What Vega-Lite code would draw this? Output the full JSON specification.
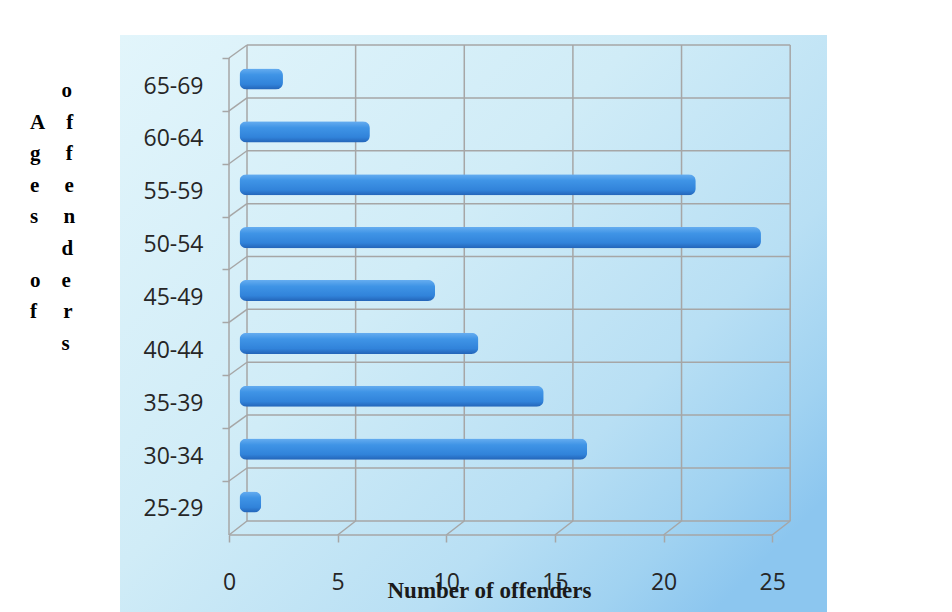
{
  "$schema": "https://vega.github.io/schema/vega-lite/v6.json",
  "width": 707,
  "height": 577,
  "autosize": {"type": "none"},
  "padding": {"left": 120, "top": 35, "right": 125, "bottom": 0},
  "background": "#ffffff",
  "config": {"view": {"stroke": null}},
  "datasets": {
    "ages": [
      {"age": "25-29", "count": 1},
      {"age": "30-34", "count": 16},
      {"age": "35-39", "count": 14},
      {"age": "40-44", "count": 11},
      {"age": "45-49", "count": 9},
      {"age": "50-54", "count": 24},
      {"age": "55-59", "count": 21},
      {"age": "60-64", "count": 6},
      {"age": "65-69", "count": 2}
    ],
    "grid": [{"v": 0}, {"v": 5}, {"v": 10}, {"v": 15}, {"v": 20}, {"v": 25}],
    "one": [{}]
  },
  "data": {"name": "ages"},
  "layer": [
    {
      "data": {"name": "one"},
      "mark": {
        "type": "rect",
        "fill": {
          "gradient": "linear", "x1": 0, "y1": 0, "x2": 1, "y2": 0.8,
          "stops": [
            {"offset": 0, "color": "#e2f5fb"},
            {"offset": 0.45, "color": "#d0ecf7"},
            {"offset": 0.75, "color": "#b8dff4"},
            {"offset": 0.9, "color": "#a0d2f1"},
            {"offset": 1, "color": "#8cc6ef"}
          ]
        }
      },
      "encoding": {}
    },
    {
      "mark": {"type": "rule", "color": "#a6a6a6", "strokeWidth": 1.5, "xOffset": 7.5, "x2Offset": 7.5, "yOffset": -34},
      "encoding": {
        "y": {"field": "age", "type": "nominal"},
        "x": {"datum": 0, "type": "quantitative"},
        "x2": {"datum": 25}
      }
    },
    {
      "data": {"name": "one"},
      "mark": {"type": "rule", "color": "#a6a6a6", "strokeWidth": 1.5, "xOffset": 7.5, "x2Offset": 7.5, "yOffset": 19},
      "encoding": {
        "y": {"datum": "25-29", "type": "nominal"},
        "x": {"datum": 0, "type": "quantitative"},
        "x2": {"datum": 25}
      }
    },
    {
      "data": {"name": "grid"},
      "mark": {"type": "rule", "color": "#a6a6a6", "strokeWidth": 1.5, "xOffset": 7.5, "yOffset": -34, "y2Offset": 19},
      "encoding": {
        "x": {"field": "v", "type": "quantitative"},
        "y": {"datum": "65-69", "type": "nominal"},
        "y2": {"datum": "25-29"}
      }
    },
    {
      "data": {"name": "one"},
      "mark": {"type": "rule", "color": "#a6a6a6", "strokeWidth": 1.5, "xOffset": -10.5, "yOffset": -21, "y2Offset": 33},
      "encoding": {
        "x": {"datum": 0, "type": "quantitative"},
        "y": {"datum": "65-69", "type": "nominal"},
        "y2": {"datum": "25-29"}
      }
    },
    {
      "data": {"name": "one"},
      "mark": {"type": "rule", "color": "#a6a6a6", "strokeWidth": 1.5, "xOffset": -10.5, "x2Offset": -10.5, "yOffset": 33},
      "encoding": {
        "y": {"datum": "25-29", "type": "nominal"},
        "x": {"datum": 0, "type": "quantitative"},
        "x2": {"datum": 25}
      }
    },
    {
      "mark": {"type": "rule", "color": "#a6a6a6", "strokeWidth": 1.5, "xOffset": -10.5, "x2Offset": 7.5, "yOffset": -21, "y2Offset": -34},
      "encoding": {
        "x": {"datum": 0, "type": "quantitative"},
        "x2": {"datum": 0},
        "y": {"field": "age", "type": "nominal"},
        "y2": {"field": "age"}
      }
    },
    {
      "data": {"name": "grid"},
      "mark": {"type": "rule", "color": "#a6a6a6", "strokeWidth": 1.5, "xOffset": -10.5, "x2Offset": 7.5, "yOffset": 33, "y2Offset": 19},
      "encoding": {
        "x": {"field": "v", "type": "quantitative"},
        "x2": {"field": "v"},
        "y": {"datum": "25-29", "type": "nominal"},
        "y2": {"datum": "25-29"}
      }
    },
    {
      "mark": {
        "type": "bar",
        "cornerRadius": 7,
        "height": {"band": 0.4},
        "fill": {
          "gradient": "linear", "x1": 0, "y1": 0, "x2": 0, "y2": 1,
          "stops": [
            {"offset": 0, "color": "#66adf0"},
            {"offset": 0.3, "color": "#3f94e6"},
            {"offset": 0.75, "color": "#3183da"},
            {"offset": 1, "color": "#2364b8"}
          ]
        }
      },
      "encoding": {
        "y": {
          "field": "age",
          "type": "nominal",
          "scale": {
            "type": "band",
            "domain": ["65-69", "60-64", "55-59", "50-54", "45-49", "40-44", "35-39", "30-34", "25-29"],
            "paddingInner": 0,
            "paddingOuter": 0.9564,
            "align": 0.1737
          },
          "axis": {
            "orient": "left",
            "offset": -109,
            "zindex": 1,
            "domain": false,
            "grid": false,
            "ticks": true,
            "tickSize": 7,
            "tickColor": "#a6a6a6",
            "tickWidth": 1.5,
            "tickOffset": -21,
            "labelOffset": 28,
            "labelPadding": 19,
            "labelFont": "Open Sans",
            "labelFontSize": 23,
            "labelColor": "#262626",
            "title": [
              "\u200b\u00a0\u00a0\u00a0\u00a0\u00a0\u00a0o",
              "A\u00a0\u00a0\u00a0\u00a0f",
              "g\u00a0\u00a0\u00a0\u00a0\u2009f",
              "e\u00a0\u00a0\u00a0\u00a0\u2009e",
              "s\u00a0\u00a0\u00a0\u00a0\u2009n",
              "\u200b\u00a0\u00a0\u00a0\u00a0\u00a0\u00a0d",
              "o\u00a0\u00a0\u00a0\u00a0e",
              "f\u00a0\u00a0\u00a0\u00a0\u00a0r",
              "\u200b\u00a0\u00a0\u00a0\u00a0\u00a0\u00a0s"
            ],
            "titleAngle": 0,
            "titleAlign": "left",
            "titleBaseline": "alphabetic",
            "titleX": -199.5,
            "titleY": 61.5,
            "titleFont": "Liberation Serif",
            "titleFontWeight": "bold",
            "titleFontSize": 21,
            "titleLineHeight": 31.6,
            "titleColor": "#000000"
          }
        },
        "x": {
          "field": "count",
          "type": "quantitative",
          "scale": {"domain": [-5.5, 27.04], "nice": false, "zero": false},
          "axis": {
            "orient": "bottom",
            "offset": -77,
            "zindex": 1,
            "values": [0, 5, 10, 15, 20, 25],
            "domain": false,
            "grid": false,
            "tickSize": 7,
            "tickColor": "#a6a6a6",
            "tickWidth": 1.5,
            "tickOffset": -10.5,
            "labelPadding": 29,
            "labelFont": "Open Sans",
            "labelFontSize": 23,
            "labelColor": "#262626",
            "title": "Number of offenders",
            "titleX": 369,
            "titleY": 62,
            "titleAlign": "center",
            "titleBaseline": "alphabetic",
            "titleFont": "Liberation Serif",
            "titleFontWeight": "bold",
            "titleFontSize": 23,
            "titleColor": "#1a1a1a"
          }
        }
      }
    }
  ]
}
